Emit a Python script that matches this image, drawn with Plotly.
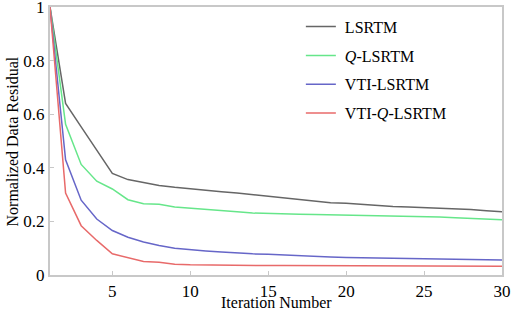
import plotly.graph_objects as go

iterations = list(range(1, 31))
lsrtm = [1.0, 0.64, 0.553, 0.466, 0.379, 0.356, 0.344, 0.334, 0.327, 0.321,
         0.316, 0.311, 0.306, 0.300, 0.294, 0.289, 0.283, 0.277, 0.270, 0.268,
         0.264, 0.258, 0.256, 0.254, 0.252, 0.250, 0.248, 0.244, 0.240, 0.236]
q_lsrtm = [1.0, 0.5625, 0.4125, 0.35, 0.321, 0.281, 0.266, 0.264, 0.254, 0.250,
           0.246, 0.241, 0.236, 0.231, 0.229, 0.228, 0.227, 0.226, 0.225, 0.224,
           0.223, 0.222, 0.221, 0.220, 0.218, 0.216, 0.214, 0.212, 0.209, 0.206]
vti_lsrtm = [1.0, 0.43, 0.279, 0.209, 0.166, 0.141, 0.123, 0.110, 0.100, 0.094,
             0.090, 0.086, 0.082, 0.079, 0.077, 0.074, 0.072, 0.069, 0.067, 0.065,
             0.064, 0.062, 0.061, 0.060, 0.059, 0.058, 0.057, 0.057, 0.056, 0.056]
vti_q_lsrtm = [1.0, 0.306, 0.184, 0.129, 0.079, 0.064, 0.050, 0.048, 0.040, 0.038,
               0.037, 0.037, 0.036, 0.036, 0.035, 0.035, 0.035, 0.034, 0.034, 0.034,
               0.034, 0.034, 0.034, 0.034, 0.034, 0.034, 0.033, 0.033, 0.033, 0.033]
x_ticks = [5, 10, 15, 20, 25, 30]
y_ticks = [0, 0.2, 0.4, 0.6, 0.8, 1]
y_ticklabels = ["0", "0.2", "0.4", "0.6", "0.8", "1"]

series = [
    ("LSRTM", lsrtm, "#666666"),
    ("<i>Q</i>-LSRTM", q_lsrtm, "#66e68a"),
    ("VTI-LSRTM", vti_lsrtm, "#6666c8"),
    ("VTI-<i>Q</i>-LSRTM", vti_q_lsrtm, "#e86a6a"),
]

fig = go.Figure()
for i, (name, vals, col) in enumerate(series):
    fig.add_trace(go.Scatter(x=iterations, y=vals, mode="lines", name="\u00a0" + name,
                             line=dict(color=col, width=1.5), legendgroup=f"g{i}"))

font = "Liberation Serif"
axis_common = dict(
    showline=True, linecolor="#c8c8c8", linewidth=2, mirror=True,
    showgrid=False, zeroline=False, ticks="inside", ticklen=4,
    tickcolor="#c8c8c8", tickfont=dict(family=font, size=17, color="#000"),
    automargin=False, ticklabeloverflow="allow",
)
fig.update_layout(
    width=512, height=310,
    margin=dict(l=50, r=10, t=7, b=35, autoexpand=False),
    paper_bgcolor="white", plot_bgcolor="white",
    font=dict(family=font, color="#000"),
    showlegend=True,
    legend=dict(x=0.555, y=0.99, xanchor="left", yanchor="top",
                font=dict(family=font, size=16, color="#000"),
                bgcolor="rgba(0,0,0,0)", tracegroupgap=5),
    xaxis=dict(range=[1, 30], tickvals=x_ticks, ticklabelstandoff=0, **axis_common),
    yaxis=dict(range=[0, 1], tickvals=y_ticks, ticktext=y_ticklabels, **axis_common),
    annotations=[
        dict(text="Iteration Number", xref="paper", yref="paper", x=0.5, y=-0.101,
             yanchor="middle", xanchor="center", showarrow=False,
             font=dict(family=font, size=16, color="#000")),
        dict(text="Normalized Data Residual", xref="paper", yref="paper", x=-0.083, y=0.5,
             yanchor="middle", xanchor="center", textangle=-90, showarrow=False,
             font=dict(family=font, size=16, color="#000")),
    ],
)
fig.write_html("out.html", config={"displayModeBar": False},
               post_script="document.body.style.margin='0';document.body.style.padding='0';")
